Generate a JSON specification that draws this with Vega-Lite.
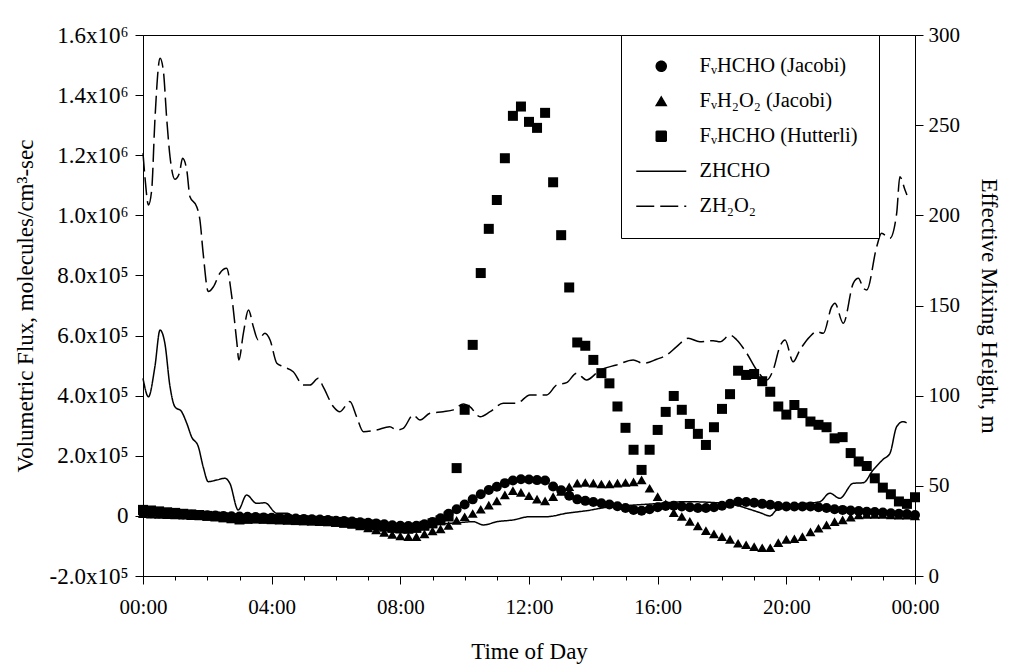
{
  "$schema": "https://vega.github.io/schema/vega-lite/v6.json",
  "autosize": {"type": "none"},
  "width": 772,
  "height": 541,
  "padding": {"left": 143, "top": 35, "right": 98, "bottom": 88},
  "background": "white",
  "datasets": {
    "pts": [
      {"t":0,"v":20000,"s":"FᵥHCHO (Hutterli)"},{"t":0.25,"v":18000,"s":"FᵥHCHO (Hutterli)"},{"t":0.5,"v":15000,"s":"FᵥHCHO (Hutterli)"},{"t":0.75,"v":12000,"s":"FᵥHCHO (Hutterli)"},{"t":1,"v":10000,"s":"FᵥHCHO (Hutterli)"},{"t":1.25,"v":7000,"s":"FᵥHCHO (Hutterli)"},{"t":1.5,"v":5000,"s":"FᵥHCHO (Hutterli)"},{"t":1.75,"v":3000,"s":"FᵥHCHO (Hutterli)"},{"t":2,"v":0,"s":"FᵥHCHO (Hutterli)"},{"t":2.25,"v":-2000,"s":"FᵥHCHO (Hutterli)"},{"t":2.5,"v":-5000,"s":"FᵥHCHO (Hutterli)"},{"t":2.75,"v":-8000,"s":"FᵥHCHO (Hutterli)"},{"t":3,"v":-12000,"s":"FᵥHCHO (Hutterli)"},{"t":3.25,"v":-10000,"s":"FᵥHCHO (Hutterli)"},{"t":3.5,"v":-9000,"s":"FᵥHCHO (Hutterli)"},{"t":3.75,"v":-10000,"s":"FᵥHCHO (Hutterli)"},{"t":4,"v":-11000,"s":"FᵥHCHO (Hutterli)"},{"t":4.25,"v":-12000,"s":"FᵥHCHO (Hutterli)"},{"t":4.5,"v":-13000,"s":"FᵥHCHO (Hutterli)"},{"t":4.75,"v":-14000,"s":"FᵥHCHO (Hutterli)"},{"t":5,"v":-15000,"s":"FᵥHCHO (Hutterli)"},{"t":5.25,"v":-16000,"s":"FᵥHCHO (Hutterli)"},{"t":5.5,"v":-17000,"s":"FᵥHCHO (Hutterli)"},{"t":5.75,"v":-18000,"s":"FᵥHCHO (Hutterli)"},{"t":6,"v":-20000,"s":"FᵥHCHO (Hutterli)"},{"t":6.25,"v":-22000,"s":"FᵥHCHO (Hutterli)"},{"t":6.5,"v":-24000,"s":"FᵥHCHO (Hutterli)"},{"t":6.75,"v":-26000,"s":"FᵥHCHO (Hutterli)"},{"t":7,"v":-29000,"s":"FᵥHCHO (Hutterli)"},{"t":7.25,"v":-32000,"s":"FᵥHCHO (Hutterli)"},{"t":7.5,"v":-36000,"s":"FᵥHCHO (Hutterli)"},{"t":7.75,"v":-40000,"s":"FᵥHCHO (Hutterli)"},{"t":8,"v":-42000,"s":"FᵥHCHO (Hutterli)"},{"t":8.25,"v":-43000,"s":"FᵥHCHO (Hutterli)"},{"t":8.5,"v":-40000,"s":"FᵥHCHO (Hutterli)"},{"t":8.75,"v":-33000,"s":"FᵥHCHO (Hutterli)"},{"t":9,"v":-25000,"s":"FᵥHCHO (Hutterli)"},{"t":9.25,"v":-15000,"s":"FᵥHCHO (Hutterli)"},{"t":9.5,"v":-2000,"s":"FᵥHCHO (Hutterli)"},{"t":9.75,"v":159000,"s":"FᵥHCHO (Hutterli)"},{"t":10,"v":353000,"s":"FᵥHCHO (Hutterli)"},{"t":10.25,"v":569000,"s":"FᵥHCHO (Hutterli)"},{"t":10.5,"v":808000,"s":"FᵥHCHO (Hutterli)"},{"t":10.75,"v":955000,"s":"FᵥHCHO (Hutterli)"},{"t":11,"v":1051000,"s":"FᵥHCHO (Hutterli)"},{"t":11.25,"v":1190000,"s":"FᵥHCHO (Hutterli)"},{"t":11.5,"v":1331000,"s":"FᵥHCHO (Hutterli)"},{"t":11.75,"v":1362000,"s":"FᵥHCHO (Hutterli)"},{"t":12,"v":1311000,"s":"FᵥHCHO (Hutterli)"},{"t":12.25,"v":1291000,"s":"FᵥHCHO (Hutterli)"},{"t":12.5,"v":1341000,"s":"FᵥHCHO (Hutterli)"},{"t":12.75,"v":1110000,"s":"FᵥHCHO (Hutterli)"},{"t":13,"v":934000,"s":"FᵥHCHO (Hutterli)"},{"t":13.25,"v":760000,"s":"FᵥHCHO (Hutterli)"},{"t":13.5,"v":577000,"s":"FᵥHCHO (Hutterli)"},{"t":13.75,"v":566000,"s":"FᵥHCHO (Hutterli)"},{"t":14,"v":519000,"s":"FᵥHCHO (Hutterli)"},{"t":14.25,"v":475000,"s":"FᵥHCHO (Hutterli)"},{"t":14.5,"v":441000,"s":"FᵥHCHO (Hutterli)"},{"t":14.75,"v":364000,"s":"FᵥHCHO (Hutterli)"},{"t":15,"v":293000,"s":"FᵥHCHO (Hutterli)"},{"t":15.25,"v":220000,"s":"FᵥHCHO (Hutterli)"},{"t":15.5,"v":153000,"s":"FᵥHCHO (Hutterli)"},{"t":15.75,"v":220000,"s":"FᵥHCHO (Hutterli)"},{"t":16,"v":286000,"s":"FᵥHCHO (Hutterli)"},{"t":16.25,"v":346000,"s":"FᵥHCHO (Hutterli)"},{"t":16.5,"v":399000,"s":"FᵥHCHO (Hutterli)"},{"t":16.75,"v":353000,"s":"FᵥHCHO (Hutterli)"},{"t":17,"v":306000,"s":"FᵥHCHO (Hutterli)"},{"t":17.25,"v":273000,"s":"FᵥHCHO (Hutterli)"},{"t":17.5,"v":236000,"s":"FᵥHCHO (Hutterli)"},{"t":17.75,"v":295000,"s":"FᵥHCHO (Hutterli)"},{"t":18,"v":356000,"s":"FᵥHCHO (Hutterli)"},{"t":18.25,"v":405000,"s":"FᵥHCHO (Hutterli)"},{"t":18.5,"v":483000,"s":"FᵥHCHO (Hutterli)"},{"t":18.75,"v":469000,"s":"FᵥHCHO (Hutterli)"},{"t":19,"v":472000,"s":"FᵥHCHO (Hutterli)"},{"t":19.25,"v":448000,"s":"FᵥHCHO (Hutterli)"},{"t":19.5,"v":413000,"s":"FᵥHCHO (Hutterli)"},{"t":19.75,"v":364000,"s":"FᵥHCHO (Hutterli)"},{"t":20,"v":337000,"s":"FᵥHCHO (Hutterli)"},{"t":20.25,"v":369000,"s":"FᵥHCHO (Hutterli)"},{"t":20.5,"v":342000,"s":"FᵥHCHO (Hutterli)"},{"t":20.75,"v":314000,"s":"FᵥHCHO (Hutterli)"},{"t":21,"v":303000,"s":"FᵥHCHO (Hutterli)"},{"t":21.25,"v":295000,"s":"FᵥHCHO (Hutterli)"},{"t":21.5,"v":258000,"s":"FᵥHCHO (Hutterli)"},{"t":21.75,"v":262000,"s":"FᵥHCHO (Hutterli)"},{"t":22,"v":209000,"s":"FᵥHCHO (Hutterli)"},{"t":22.25,"v":181000,"s":"FᵥHCHO (Hutterli)"},{"t":22.5,"v":166000,"s":"FᵥHCHO (Hutterli)"},{"t":22.75,"v":125000,"s":"FᵥHCHO (Hutterli)"},{"t":23,"v":94000,"s":"FᵥHCHO (Hutterli)"},{"t":23.25,"v":72000,"s":"FᵥHCHO (Hutterli)"},{"t":23.5,"v":48000,"s":"FᵥHCHO (Hutterli)"},{"t":23.75,"v":40000,"s":"FᵥHCHO (Hutterli)"},{"t":24,"v":62000,"s":"FᵥHCHO (Hutterli)"},
      {"t":0,"v":7000,"s":"FᵥH₂O₂ (Jacobi)"},{"t":0.25,"v":6000,"s":"FᵥH₂O₂ (Jacobi)"},{"t":0.5,"v":5000,"s":"FᵥH₂O₂ (Jacobi)"},{"t":0.75,"v":4000,"s":"FᵥH₂O₂ (Jacobi)"},{"t":1,"v":3000,"s":"FᵥH₂O₂ (Jacobi)"},{"t":1.25,"v":2000,"s":"FᵥH₂O₂ (Jacobi)"},{"t":1.5,"v":1000,"s":"FᵥH₂O₂ (Jacobi)"},{"t":1.75,"v":0,"s":"FᵥH₂O₂ (Jacobi)"},{"t":2,"v":-1000,"s":"FᵥH₂O₂ (Jacobi)"},{"t":2.25,"v":-2000,"s":"FᵥH₂O₂ (Jacobi)"},{"t":2.5,"v":-3000,"s":"FᵥH₂O₂ (Jacobi)"},{"t":2.75,"v":-4000,"s":"FᵥH₂O₂ (Jacobi)"},{"t":3,"v":-5000,"s":"FᵥH₂O₂ (Jacobi)"},{"t":3.25,"v":-6000,"s":"FᵥH₂O₂ (Jacobi)"},{"t":3.5,"v":-7000,"s":"FᵥH₂O₂ (Jacobi)"},{"t":3.75,"v":-8000,"s":"FᵥH₂O₂ (Jacobi)"},{"t":4,"v":-9000,"s":"FᵥH₂O₂ (Jacobi)"},{"t":4.25,"v":-10000,"s":"FᵥH₂O₂ (Jacobi)"},{"t":4.5,"v":-11000,"s":"FᵥH₂O₂ (Jacobi)"},{"t":4.75,"v":-12000,"s":"FᵥH₂O₂ (Jacobi)"},{"t":5,"v":-13000,"s":"FᵥH₂O₂ (Jacobi)"},{"t":5.25,"v":-15000,"s":"FᵥH₂O₂ (Jacobi)"},{"t":5.5,"v":-17000,"s":"FᵥH₂O₂ (Jacobi)"},{"t":5.75,"v":-19000,"s":"FᵥH₂O₂ (Jacobi)"},{"t":6,"v":-22000,"s":"FᵥH₂O₂ (Jacobi)"},{"t":6.25,"v":-25000,"s":"FᵥH₂O₂ (Jacobi)"},{"t":6.5,"v":-28000,"s":"FᵥH₂O₂ (Jacobi)"},{"t":6.75,"v":-33000,"s":"FᵥH₂O₂ (Jacobi)"},{"t":7,"v":-40000,"s":"FᵥH₂O₂ (Jacobi)"},{"t":7.25,"v":-47000,"s":"FᵥH₂O₂ (Jacobi)"},{"t":7.5,"v":-55000,"s":"FᵥH₂O₂ (Jacobi)"},{"t":7.75,"v":-62000,"s":"FᵥH₂O₂ (Jacobi)"},{"t":8,"v":-67000,"s":"FᵥH₂O₂ (Jacobi)"},{"t":8.25,"v":-69000,"s":"FᵥH₂O₂ (Jacobi)"},{"t":8.5,"v":-69000,"s":"FᵥH₂O₂ (Jacobi)"},{"t":8.75,"v":-60000,"s":"FᵥH₂O₂ (Jacobi)"},{"t":9,"v":-50000,"s":"FᵥH₂O₂ (Jacobi)"},{"t":9.25,"v":-43000,"s":"FᵥH₂O₂ (Jacobi)"},{"t":9.5,"v":-32000,"s":"FᵥH₂O₂ (Jacobi)"},{"t":9.75,"v":-15000,"s":"FᵥH₂O₂ (Jacobi)"},{"t":10,"v":-3000,"s":"FᵥH₂O₂ (Jacobi)"},{"t":10.25,"v":8000,"s":"FᵥH₂O₂ (Jacobi)"},{"t":10.5,"v":22000,"s":"FᵥH₂O₂ (Jacobi)"},{"t":10.75,"v":36000,"s":"FᵥH₂O₂ (Jacobi)"},{"t":11,"v":50000,"s":"FᵥH₂O₂ (Jacobi)"},{"t":11.25,"v":70000,"s":"FᵥH₂O₂ (Jacobi)"},{"t":11.5,"v":84000,"s":"FᵥH₂O₂ (Jacobi)"},{"t":11.75,"v":78000,"s":"FᵥH₂O₂ (Jacobi)"},{"t":12,"v":67000,"s":"FᵥH₂O₂ (Jacobi)"},{"t":12.25,"v":56000,"s":"FᵥH₂O₂ (Jacobi)"},{"t":12.5,"v":50000,"s":"FᵥH₂O₂ (Jacobi)"},{"t":12.75,"v":64000,"s":"FᵥH₂O₂ (Jacobi)"},{"t":13,"v":81000,"s":"FᵥH₂O₂ (Jacobi)"},{"t":13.25,"v":97000,"s":"FᵥH₂O₂ (Jacobi)"},{"t":13.5,"v":109000,"s":"FᵥH₂O₂ (Jacobi)"},{"t":13.75,"v":111000,"s":"FᵥH₂O₂ (Jacobi)"},{"t":14,"v":109000,"s":"FᵥH₂O₂ (Jacobi)"},{"t":14.25,"v":106000,"s":"FᵥH₂O₂ (Jacobi)"},{"t":14.5,"v":106000,"s":"FᵥH₂O₂ (Jacobi)"},{"t":14.75,"v":109000,"s":"FᵥH₂O₂ (Jacobi)"},{"t":15,"v":111000,"s":"FᵥH₂O₂ (Jacobi)"},{"t":15.25,"v":113000,"s":"FᵥH₂O₂ (Jacobi)"},{"t":15.5,"v":120000,"s":"FᵥH₂O₂ (Jacobi)"},{"t":15.75,"v":92000,"s":"FᵥH₂O₂ (Jacobi)"},{"t":16,"v":64000,"s":"FᵥH₂O₂ (Jacobi)"},{"t":16.25,"v":40000,"s":"FᵥH₂O₂ (Jacobi)"},{"t":16.5,"v":11000,"s":"FᵥH₂O₂ (Jacobi)"},{"t":16.75,"v":-2000,"s":"FᵥH₂O₂ (Jacobi)"},{"t":17,"v":-18000,"s":"FᵥH₂O₂ (Jacobi)"},{"t":17.25,"v":-33000,"s":"FᵥH₂O₂ (Jacobi)"},{"t":17.5,"v":-49000,"s":"FᵥH₂O₂ (Jacobi)"},{"t":17.75,"v":-60000,"s":"FᵥH₂O₂ (Jacobi)"},{"t":18,"v":-69000,"s":"FᵥH₂O₂ (Jacobi)"},{"t":18.25,"v":-78000,"s":"FᵥH₂O₂ (Jacobi)"},{"t":18.5,"v":-91000,"s":"FᵥH₂O₂ (Jacobi)"},{"t":18.75,"v":-96000,"s":"FᵥH₂O₂ (Jacobi)"},{"t":19,"v":-102000,"s":"FᵥH₂O₂ (Jacobi)"},{"t":19.25,"v":-106000,"s":"FᵥH₂O₂ (Jacobi)"},{"t":19.5,"v":-106000,"s":"FᵥH₂O₂ (Jacobi)"},{"t":19.75,"v":-89000,"s":"FᵥH₂O₂ (Jacobi)"},{"t":20,"v":-78000,"s":"FᵥH₂O₂ (Jacobi)"},{"t":20.25,"v":-76000,"s":"FᵥH₂O₂ (Jacobi)"},{"t":20.5,"v":-69000,"s":"FᵥH₂O₂ (Jacobi)"},{"t":20.75,"v":-53000,"s":"FᵥH₂O₂ (Jacobi)"},{"t":21,"v":-41000,"s":"FᵥH₂O₂ (Jacobi)"},{"t":21.25,"v":-30000,"s":"FᵥH₂O₂ (Jacobi)"},{"t":21.5,"v":-19000,"s":"FᵥH₂O₂ (Jacobi)"},{"t":21.75,"v":-13000,"s":"FᵥH₂O₂ (Jacobi)"},{"t":22,"v":-4000,"s":"FᵥH₂O₂ (Jacobi)"},{"t":22.25,"v":3000,"s":"FᵥH₂O₂ (Jacobi)"},{"t":22.5,"v":5000,"s":"FᵥH₂O₂ (Jacobi)"},{"t":22.75,"v":5000,"s":"FᵥH₂O₂ (Jacobi)"},{"t":23,"v":5000,"s":"FᵥH₂O₂ (Jacobi)"},{"t":23.25,"v":3000,"s":"FᵥH₂O₂ (Jacobi)"},{"t":23.5,"v":2000,"s":"FᵥH₂O₂ (Jacobi)"},{"t":23.75,"v":2000,"s":"FᵥH₂O₂ (Jacobi)"},{"t":24,"v":0,"s":"FᵥH₂O₂ (Jacobi)"},
      {"t":0,"v":10000,"s":"FᵥHCHO (Jacobi)"},{"t":0.25,"v":9000,"s":"FᵥHCHO (Jacobi)"},{"t":0.5,"v":8000,"s":"FᵥHCHO (Jacobi)"},{"t":0.75,"v":7000,"s":"FᵥHCHO (Jacobi)"},{"t":1,"v":6000,"s":"FᵥHCHO (Jacobi)"},{"t":1.25,"v":5000,"s":"FᵥHCHO (Jacobi)"},{"t":1.5,"v":4000,"s":"FᵥHCHO (Jacobi)"},{"t":1.75,"v":3000,"s":"FᵥHCHO (Jacobi)"},{"t":2,"v":2000,"s":"FᵥHCHO (Jacobi)"},{"t":2.25,"v":1000,"s":"FᵥHCHO (Jacobi)"},{"t":2.5,"v":0,"s":"FᵥHCHO (Jacobi)"},{"t":2.75,"v":-1000,"s":"FᵥHCHO (Jacobi)"},{"t":3,"v":-2000,"s":"FᵥHCHO (Jacobi)"},{"t":3.25,"v":-3000,"s":"FᵥHCHO (Jacobi)"},{"t":3.5,"v":-4000,"s":"FᵥHCHO (Jacobi)"},{"t":3.75,"v":-5000,"s":"FᵥHCHO (Jacobi)"},{"t":4,"v":-6000,"s":"FᵥHCHO (Jacobi)"},{"t":4.25,"v":-7000,"s":"FᵥHCHO (Jacobi)"},{"t":4.5,"v":-8000,"s":"FᵥHCHO (Jacobi)"},{"t":4.75,"v":-9000,"s":"FᵥHCHO (Jacobi)"},{"t":5,"v":-10000,"s":"FᵥHCHO (Jacobi)"},{"t":5.25,"v":-11000,"s":"FᵥHCHO (Jacobi)"},{"t":5.5,"v":-12000,"s":"FᵥHCHO (Jacobi)"},{"t":5.75,"v":-14000,"s":"FᵥHCHO (Jacobi)"},{"t":6,"v":-16000,"s":"FᵥHCHO (Jacobi)"},{"t":6.25,"v":-17000,"s":"FᵥHCHO (Jacobi)"},{"t":6.5,"v":-19000,"s":"FᵥHCHO (Jacobi)"},{"t":6.75,"v":-21000,"s":"FᵥHCHO (Jacobi)"},{"t":7,"v":-23000,"s":"FᵥHCHO (Jacobi)"},{"t":7.25,"v":-25000,"s":"FᵥHCHO (Jacobi)"},{"t":7.5,"v":-28000,"s":"FᵥHCHO (Jacobi)"},{"t":7.75,"v":-31000,"s":"FᵥHCHO (Jacobi)"},{"t":8,"v":-33000,"s":"FᵥHCHO (Jacobi)"},{"t":8.25,"v":-34000,"s":"FᵥHCHO (Jacobi)"},{"t":8.5,"v":-33000,"s":"FᵥHCHO (Jacobi)"},{"t":8.75,"v":-28000,"s":"FᵥHCHO (Jacobi)"},{"t":9,"v":-20000,"s":"FᵥHCHO (Jacobi)"},{"t":9.25,"v":-8000,"s":"FᵥHCHO (Jacobi)"},{"t":9.5,"v":7000,"s":"FᵥHCHO (Jacobi)"},{"t":9.75,"v":22000,"s":"FᵥHCHO (Jacobi)"},{"t":10,"v":38000,"s":"FᵥHCHO (Jacobi)"},{"t":10.25,"v":55000,"s":"FᵥHCHO (Jacobi)"},{"t":10.5,"v":72000,"s":"FᵥHCHO (Jacobi)"},{"t":10.75,"v":86000,"s":"FᵥHCHO (Jacobi)"},{"t":11,"v":97000,"s":"FᵥHCHO (Jacobi)"},{"t":11.25,"v":109000,"s":"FᵥHCHO (Jacobi)"},{"t":11.5,"v":118000,"s":"FᵥHCHO (Jacobi)"},{"t":11.75,"v":122000,"s":"FᵥHCHO (Jacobi)"},{"t":12,"v":121000,"s":"FᵥHCHO (Jacobi)"},{"t":12.25,"v":119000,"s":"FᵥHCHO (Jacobi)"},{"t":12.5,"v":118000,"s":"FᵥHCHO (Jacobi)"},{"t":12.75,"v":98000,"s":"FᵥHCHO (Jacobi)"},{"t":13,"v":85000,"s":"FᵥHCHO (Jacobi)"},{"t":13.25,"v":67000,"s":"FᵥHCHO (Jacobi)"},{"t":13.5,"v":55000,"s":"FᵥHCHO (Jacobi)"},{"t":13.75,"v":50000,"s":"FᵥHCHO (Jacobi)"},{"t":14,"v":46000,"s":"FᵥHCHO (Jacobi)"},{"t":14.25,"v":42000,"s":"FᵥHCHO (Jacobi)"},{"t":14.5,"v":38000,"s":"FᵥHCHO (Jacobi)"},{"t":14.75,"v":32000,"s":"FᵥHCHO (Jacobi)"},{"t":15,"v":26000,"s":"FᵥHCHO (Jacobi)"},{"t":15.25,"v":20000,"s":"FᵥHCHO (Jacobi)"},{"t":15.5,"v":17000,"s":"FᵥHCHO (Jacobi)"},{"t":15.75,"v":22000,"s":"FᵥHCHO (Jacobi)"},{"t":16,"v":29000,"s":"FᵥHCHO (Jacobi)"},{"t":16.25,"v":33000,"s":"FᵥHCHO (Jacobi)"},{"t":16.5,"v":34000,"s":"FᵥHCHO (Jacobi)"},{"t":16.75,"v":31000,"s":"FᵥHCHO (Jacobi)"},{"t":17,"v":29000,"s":"FᵥHCHO (Jacobi)"},{"t":17.25,"v":26000,"s":"FᵥHCHO (Jacobi)"},{"t":17.5,"v":26000,"s":"FᵥHCHO (Jacobi)"},{"t":17.75,"v":29000,"s":"FᵥHCHO (Jacobi)"},{"t":18,"v":34000,"s":"FᵥHCHO (Jacobi)"},{"t":18.25,"v":40000,"s":"FᵥHCHO (Jacobi)"},{"t":18.5,"v":47000,"s":"FᵥHCHO (Jacobi)"},{"t":18.75,"v":46000,"s":"FᵥHCHO (Jacobi)"},{"t":19,"v":44000,"s":"FᵥHCHO (Jacobi)"},{"t":19.25,"v":40000,"s":"FᵥHCHO (Jacobi)"},{"t":19.5,"v":37000,"s":"FᵥHCHO (Jacobi)"},{"t":19.75,"v":33000,"s":"FᵥHCHO (Jacobi)"},{"t":20,"v":31000,"s":"FᵥHCHO (Jacobi)"},{"t":20.25,"v":31000,"s":"FᵥHCHO (Jacobi)"},{"t":20.5,"v":31000,"s":"FᵥHCHO (Jacobi)"},{"t":20.75,"v":31000,"s":"FᵥHCHO (Jacobi)"},{"t":21,"v":29000,"s":"FᵥHCHO (Jacobi)"},{"t":21.25,"v":26000,"s":"FᵥHCHO (Jacobi)"},{"t":21.5,"v":22000,"s":"FᵥHCHO (Jacobi)"},{"t":21.75,"v":20000,"s":"FᵥHCHO (Jacobi)"},{"t":22,"v":18000,"s":"FᵥHCHO (Jacobi)"},{"t":22.25,"v":16000,"s":"FᵥHCHO (Jacobi)"},{"t":22.5,"v":14000,"s":"FᵥHCHO (Jacobi)"},{"t":22.75,"v":13000,"s":"FᵥHCHO (Jacobi)"},{"t":23,"v":11000,"s":"FᵥHCHO (Jacobi)"},{"t":23.25,"v":9000,"s":"FᵥHCHO (Jacobi)"},{"t":23.5,"v":7000,"s":"FᵥHCHO (Jacobi)"},{"t":23.75,"v":6000,"s":"FᵥHCHO (Jacobi)"},{"t":24,"v":3000,"s":"FᵥHCHO (Jacobi)"}
    ],
    "lines": [
      {"t":0,"h":109.6,"s":"ZHCHO"},{"t":0.17,"h":99.4,"s":"ZHCHO"},{"t":0.37,"h":116.1,"s":"ZHCHO"},{"t":0.53,"h":136.4,"s":"ZHCHO"},{"t":0.68,"h":129.0,"s":"ZHCHO"},{"t":0.84,"h":105.0,"s":"ZHCHO"},{"t":0.99,"h":93.9,"s":"ZHCHO"},{"t":1.2,"h":91.1,"s":"ZHCHO"},{"t":1.36,"h":84.7,"s":"ZHCHO"},{"t":1.51,"h":77.2,"s":"ZHCHO"},{"t":1.72,"h":71.7,"s":"ZHCHO"},{"t":1.87,"h":60.6,"s":"ZHCHO"},{"t":2.03,"h":52.3,"s":"ZHCHO"},{"t":2.29,"h":53.2,"s":"ZHCHO"},{"t":2.55,"h":54.2,"s":"ZHCHO"},{"t":2.7,"h":51.4,"s":"ZHCHO"},{"t":2.96,"h":36.6,"s":"ZHCHO"},{"t":3.22,"h":44.9,"s":"ZHCHO"},{"t":3.53,"h":40.3,"s":"ZHCHO"},{"t":3.79,"h":40.6,"s":"ZHCHO"},{"t":4.16,"h":34.8,"s":"ZHCHO"},{"t":4.47,"h":34.8,"s":"ZHCHO"},{"t":4.78,"h":32.0,"s":"ZHCHO"},{"t":5.25,"h":31.0,"s":"ZHCHO"},{"t":6,"h":30.0,"s":"ZHCHO"},{"t":7,"h":29.0,"s":"ZHCHO"},{"t":8,"h":28.0,"s":"ZHCHO"},{"t":9,"h":28.5,"s":"ZHCHO"},{"t":9.75,"h":29.5,"s":"ZHCHO"},{"t":10.27,"h":30.1,"s":"ZHCHO"},{"t":10.58,"h":28.3,"s":"ZHCHO"},{"t":11,"h":30.1,"s":"ZHCHO"},{"t":11.51,"h":31.1,"s":"ZHCHO"},{"t":12.03,"h":32.9,"s":"ZHCHO"},{"t":12.55,"h":32.9,"s":"ZHCHO"},{"t":13.17,"h":34.8,"s":"ZHCHO"},{"t":13.79,"h":36.2,"s":"ZHCHO"},{"t":14.41,"h":38.1,"s":"ZHCHO"},{"t":15,"h":39.0,"s":"ZHCHO"},{"t":15.76,"h":39.9,"s":"ZHCHO"},{"t":16.9,"h":41.2,"s":"ZHCHO"},{"t":17.94,"h":40.5,"s":"ZHCHO"},{"t":18.4,"h":39.5,"s":"ZHCHO"},{"t":18.77,"h":37.5,"s":"ZHCHO"},{"t":19.2,"h":35.0,"s":"ZHCHO"},{"t":19.49,"h":33.3,"s":"ZHCHO"},{"t":19.7,"h":36.6,"s":"ZHCHO"},{"t":20.42,"h":39.9,"s":"ZHCHO"},{"t":21.04,"h":41.2,"s":"ZHCHO"},{"t":21.35,"h":45.9,"s":"ZHCHO"},{"t":21.66,"h":43.1,"s":"ZHCHO"},{"t":22.08,"h":51.4,"s":"ZHCHO"},{"t":22.39,"h":51.7,"s":"ZHCHO"},{"t":22.7,"h":58.8,"s":"ZHCHO"},{"t":23.01,"h":64.7,"s":"ZHCHO"},{"t":23.22,"h":68.0,"s":"ZHCHO"},{"t":23.43,"h":82.8,"s":"ZHCHO"},{"t":23.63,"h":85.6,"s":"ZHCHO"},{"t":23.74,"h":85.0,"s":"ZHCHO"},
      {"t":0,"h":234.4,"s":"ZH₂O₂"},{"t":0.06,"h":221.4,"s":"ZH₂O₂"},{"t":0.17,"h":205.7,"s":"ZH₂O₂"},{"t":0.27,"h":214.0,"s":"ZH₂O₂"},{"t":0.37,"h":252.9,"s":"ZH₂O₂"},{"t":0.53,"h":287.1,"s":"ZH₂O₂"},{"t":0.63,"h":280.6,"s":"ZH₂O₂"},{"t":0.74,"h":252.9,"s":"ZH₂O₂"},{"t":0.84,"h":232.5,"s":"ZH₂O₂"},{"t":0.99,"h":220.0,"s":"ZH₂O₂"},{"t":1.13,"h":223.3,"s":"ZH₂O₂"},{"t":1.23,"h":231.6,"s":"ZH₂O₂"},{"t":1.36,"h":225.1,"s":"ZH₂O₂"},{"t":1.46,"h":210.3,"s":"ZH₂O₂"},{"t":1.67,"h":204.8,"s":"ZH₂O₂"},{"t":1.77,"h":197.4,"s":"ZH₂O₂"},{"t":1.87,"h":179.0,"s":"ZH₂O₂"},{"t":2.03,"h":157.7,"s":"ZH₂O₂"},{"t":2.19,"h":160.4,"s":"ZH₂O₂"},{"t":2.39,"h":167.9,"s":"ZH₂O₂"},{"t":2.6,"h":170.6,"s":"ZH₂O₂"},{"t":2.76,"h":154.9,"s":"ZH₂O₂"},{"t":2.92,"h":129.0,"s":"ZH₂O₂"},{"t":2.98,"h":119.8,"s":"ZH₂O₂"},{"t":3.12,"h":134.6,"s":"ZH₂O₂"},{"t":3.28,"h":147.5,"s":"ZH₂O₂"},{"t":3.43,"h":138.2,"s":"ZH₂O₂"},{"t":3.58,"h":130.9,"s":"ZH₂O₂"},{"t":3.79,"h":134.6,"s":"ZH₂O₂"},{"t":3.95,"h":130.9,"s":"ZH₂O₂"},{"t":4.16,"h":118.0,"s":"ZH₂O₂"},{"t":4.36,"h":116.1,"s":"ZH₂O₂"},{"t":4.67,"h":113.3,"s":"ZH₂O₂"},{"t":4.98,"h":105.9,"s":"ZH₂O₂"},{"t":5.19,"h":105.9,"s":"ZH₂O₂"},{"t":5.45,"h":109.6,"s":"ZH₂O₂"},{"t":5.6,"h":105.0,"s":"ZH₂O₂"},{"t":5.92,"h":93.9,"s":"ZH₂O₂"},{"t":6.12,"h":91.1,"s":"ZH₂O₂"},{"t":6.43,"h":96.7,"s":"ZH₂O₂"},{"t":6.64,"h":88.3,"s":"ZH₂O₂"},{"t":6.85,"h":80.0,"s":"ZH₂O₂"},{"t":7.26,"h":81.0,"s":"ZH₂O₂"},{"t":7.67,"h":82.8,"s":"ZH₂O₂"},{"t":7.89,"h":81.0,"s":"ZH₂O₂"},{"t":8.09,"h":81.9,"s":"ZH₂O₂"},{"t":8.4,"h":89.3,"s":"ZH₂O₂"},{"t":8.61,"h":86.5,"s":"ZH₂O₂"},{"t":8.92,"h":90.2,"s":"ZH₂O₂"},{"t":9.33,"h":91.1,"s":"ZH₂O₂"},{"t":9.65,"h":92.1,"s":"ZH₂O₂"},{"t":9.96,"h":95.4,"s":"ZH₂O₂"},{"t":10.16,"h":93.9,"s":"ZH₂O₂"},{"t":10.48,"h":88.3,"s":"ZH₂O₂"},{"t":10.79,"h":91.1,"s":"ZH₂O₂"},{"t":11.2,"h":95.8,"s":"ZH₂O₂"},{"t":11.62,"h":95.8,"s":"ZH₂O₂"},{"t":12.03,"h":100.4,"s":"ZH₂O₂"},{"t":12.55,"h":100.4,"s":"ZH₂O₂"},{"t":12.86,"h":105.9,"s":"ZH₂O₂"},{"t":13.17,"h":107.2,"s":"ZH₂O₂"},{"t":13.48,"h":112.4,"s":"ZH₂O₂"},{"t":13.79,"h":108.7,"s":"ZH₂O₂"},{"t":14.21,"h":114.2,"s":"ZH₂O₂"},{"t":14.72,"h":117.0,"s":"ZH₂O₂"},{"t":15.24,"h":119.8,"s":"ZH₂O₂"},{"t":15.55,"h":117.9,"s":"ZH₂O₂"},{"t":15.97,"h":120.2,"s":"ZH₂O₂"},{"t":16.28,"h":122.5,"s":"ZH₂O₂"},{"t":16.59,"h":127.2,"s":"ZH₂O₂"},{"t":16.95,"h":131.8,"s":"ZH₂O₂"},{"t":17.31,"h":129.9,"s":"ZH₂O₂"},{"t":17.73,"h":130.5,"s":"ZH₂O₂"},{"t":17.94,"h":129.9,"s":"ZH₂O₂"},{"t":18.25,"h":133.6,"s":"ZH₂O₂"},{"t":18.46,"h":130.9,"s":"ZH₂O₂"},{"t":18.77,"h":123.5,"s":"ZH₂O₂"},{"t":19.08,"h":114.2,"s":"ZH₂O₂"},{"t":19.39,"h":108.7,"s":"ZH₂O₂"},{"t":19.59,"h":114.2,"s":"ZH₂O₂"},{"t":19.8,"h":127.2,"s":"ZH₂O₂"},{"t":19.96,"h":130.9,"s":"ZH₂O₂"},{"t":20.21,"h":118.8,"s":"ZH₂O₂"},{"t":20.42,"h":125.3,"s":"ZH₂O₂"},{"t":20.73,"h":132.7,"s":"ZH₂O₂"},{"t":20.94,"h":135.5,"s":"ZH₂O₂"},{"t":21.15,"h":134.6,"s":"ZH₂O₂"},{"t":21.41,"h":149.3,"s":"ZH₂O₂"},{"t":21.51,"h":151.2,"s":"ZH₂O₂"},{"t":21.77,"h":140.1,"s":"ZH₂O₂"},{"t":22.08,"h":162.3,"s":"ZH₂O₂"},{"t":22.24,"h":165.1,"s":"ZH₂O₂"},{"t":22.4,"h":159.5,"s":"ZH₂O₂"},{"t":22.5,"h":158.6,"s":"ZH₂O₂"},{"t":22.81,"h":182.6,"s":"ZH₂O₂"},{"t":22.96,"h":190.0,"s":"ZH₂O₂"},{"t":23.22,"h":187.3,"s":"ZH₂O₂"},{"t":23.43,"h":201.1,"s":"ZH₂O₂"},{"t":23.53,"h":221.4,"s":"ZH₂O₂"},{"t":23.69,"h":214.0,"s":"ZH₂O₂"},{"t":23.75,"h":211.3,"s":"ZH₂O₂"}
    ]
  },
  "encoding": {
    "x": {
      "field": "t", "type": "quantitative",
      "scale": {"domain": [0, 24], "nice": false, "zero": false},
      "axis": {
        "orient": "bottom",
        "title": "Time of Day",
        "values": [0,1,2,3,4,5,6,7,8,9,10,11,12,13,14,15,16,17,18,19,20,21,22,23,24],
        "labelExpr": "datum.value % 4 === 0 ? ((datum.value % 24) < 10 ? '0' : '') + (datum.value % 24) + ':00' : ''",
        "tickSize": {"condition": {"test": "datum.value % 4 === 0", "value": 8}, "value": 4},
        "labelFlush": false,
        "labelOverlap": false,
        "labelFontSize": 21,
        "labelPadding": 12,
        "titleFontSize": 23,
        "titlePadding": 23
      }
    }
  },
  "layer": [
    {
      "data": {"name": "lines"},
      "mark": {"type": "line", "interpolate": "monotone", "strokeWidth": 1.5, "color": "black"},
      "encoding": {
        "y": {
          "field": "h", "type": "quantitative",
          "scale": {"domain": [0, 300], "nice": false},
          "axis": {"orient": "right", "title": "Effective Mixing Height, m", "values": [0,50,100,150,200,250,300], "labelFontSize": 21, "labelPadding": 5, "titleFontSize": 23, "titlePadding": 17}
        },
        "strokeDash": {
          "field": "s", "type": "nominal",
          "scale": {"domain": ["FᵥHCHO (Jacobi)", "FᵥH₂O₂ (Jacobi)", "FᵥHCHO (Hutterli)", "ZHCHO", "ZH₂O₂"], "range": [[1,0],[1,0],[1,0],[1,0],[18,6]]},
          "legend": {
            "orient": "none", "legendX": 478, "legendY": 0, "title": null, "columns": 1,
            "symbolSize": 2500, "symbolStrokeWidth": 1.5, "symbolStrokeColor": "black", "symbolFillColor": "black",
            "symbolOffset": 9,
            "labelFont": "Liberation Serif", "labelFontSize": 20.5, "labelColor": "black", "labelOffset": 28, "rowPadding": 14, "padding": 21,
            "strokeColor": "black", "fillColor": "white",
            "encode": {"symbols": {"update": {"size": {"signal": "indexof(['ZHCHO','ZH₂O₂'], datum.value) >= 0 ? 2500 : 100"}}}}
          }
        }
      }
    },
    {
      "data": {"name": "pts"},
      "mark": {"type": "point", "filled": true, "opacity": 1, "color": "black", "size": 100},
      "encoding": {
        "y": {
          "field": "v", "type": "quantitative",
          "scale": {"domain": [-200000, 1600000], "nice": false},
          "axis": {
            "orient": "left", "title": "Volumetric Flux, molecules/cm³-sec",
            "values": [-200000,0,200000,400000,600000,800000,1000000,1200000,1400000,1600000],
            "labelExpr": "datum.value === 0 ? '0' : (datum.value < 0 ? '-' : '') + (abs(datum.value) >= 1000000 ? format(abs(datum.value) / 1000000, '.1f') + 'x10⁶' : format(abs(datum.value) / 100000, '.1f') + 'x10⁵')",
            "labelFontSize": 23, "labelPadding": 7, "titleFontSize": 23, "titlePadding": 12
          }
        },
        "shape": {
          "field": "s", "type": "nominal",
          "scale": {"domain": ["FᵥHCHO (Jacobi)", "FᵥH₂O₂ (Jacobi)", "FᵥHCHO (Hutterli)", "ZHCHO", "ZH₂O₂"], "range": ["circle", "triangle-up", "square", "stroke", "stroke"]},
          "legend": {
            "orient": "none", "legendX": 478, "legendY": 0, "title": null, "columns": 1,
            "symbolSize": 2500, "symbolStrokeWidth": 1.5, "symbolStrokeColor": "black", "symbolFillColor": "black",
            "symbolOffset": 9,
            "labelFont": "Liberation Serif", "labelFontSize": 20.5, "labelColor": "black", "labelOffset": 28, "rowPadding": 14, "padding": 21,
            "strokeColor": "black", "fillColor": "white",
            "encode": {"symbols": {"update": {"size": {"signal": "indexof(['ZHCHO','ZH₂O₂'], datum.value) >= 0 ? 2500 : 100"}}}}
          }
        }
      }
    }
  ],
  "resolve": {"scale": {"y": "independent"}},
  "config": {
    "font": "Liberation Serif",
    "view": {"stroke": "black", "strokeWidth": 1},
    "axis": {
      "domainColor": "black", "domainWidth": 1, "tickColor": "black", "tickWidth": 1, "tickSize": 8,
      "labelColor": "black", "titleColor": "black",
      "labelFont": "Liberation Serif", "titleFont": "Liberation Serif",
      "labelFontSize": 20, "titleFontSize": 20, "titleFontWeight": "normal", "grid": false
    }
  }
}
